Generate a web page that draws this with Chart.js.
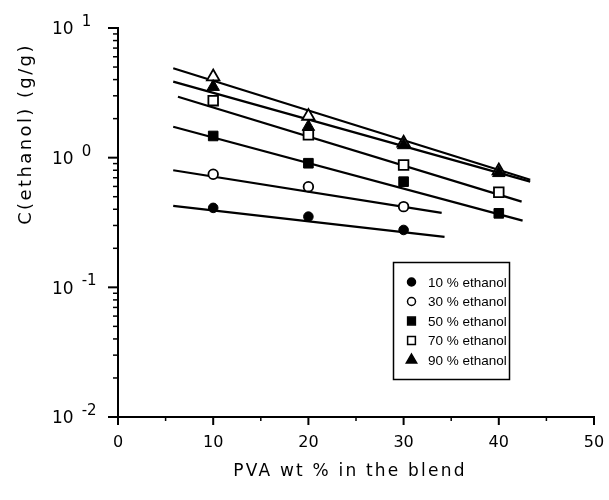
<!DOCTYPE html>
<html><head><meta charset="utf-8">
<script src="https://cdn.jsdelivr.net/npm/chart.js@4.4.0/dist/chart.umd.min.js"></script>
<style>html,body{margin:0;padding:0;background:#fff;}#wrap{width:609px;height:500px;}</style>
</head><body><div id="wrap"><canvas id="c" width="609" height="500"></canvas></div>
<script>
// ---- data ----
const pvaWt = [10, 20, 30, 40];
const eth10 = [0.41, 0.351, 0.277];
const eth30 = [0.745, 0.597, 0.419];
const eth50 = [1.47, 0.906, 0.653, 0.372];
const eth70 = [2.75, 1.50, 0.878, 0.541];
const eth90 = [3.52, 1.73, 1.25, 0.762];
const ethOpen = [4.21, 2.09, 1.30, 0.794];   // open triangles (not in legend)

// fitted lines: [xStart, xEnd] and [yStart, yEnd]
const fit10X = [5.8, 34.3],  fit10Y = [0.425, 0.245];
const fit30X = [5.8, 34.0],  fit30Y = [0.80, 0.375];
const fit50X = [5.8, 42.5],  fit50Y = [1.73, 0.327];
const fit70X = [6.3, 42.4],  fit70Y = [2.95, 0.458];
const fit90X = [5.8, 43.3],  fit90Y = [3.86, 0.653];
const fitOpenX = [5.8, 43.3], fitOpenY = [4.89, 0.676];

const seriesLabels = ['10 % ethanol', '30 % ethanol', '50 % ethanol', '70 % ethanol', '90 % ethanol'];
const xTicks = [0, 10, 20, 30, 40, 50];
const xMinorTicks = [5, 15, 25, 35, 45];
const yTickValues = [0.01, 0.1, 1, 10];
const yTickExponents = ['-2', '-1', '0', '1'];
const xTitle = 'PVA wt % in the blend';
const yTitle = 'C(ethanol) (g/g)';

// ---- helpers ----
const pts = (xs, ys) => ys.map((y, i) => ({x: xs[i], y}));
const FILL = '#000', OPEN = '#fff';
function markerSet(label, ys, style, filled, radius) {
  return {label, data: pts(pvaWt, ys), showLine: false, pointStyle: style,
    pointRadius: radius, pointHoverRadius: radius,
    pointBackgroundColor: filled ? FILL : OPEN, pointBorderColor: '#000',
    pointBorderWidth: filled ? 1 : 1.8, order: 0, inLegend: true};
}
function lineSet(xs, ys) {
  return {label: '', data: pts(xs, ys), showLine: true, pointRadius: 0,
    borderColor: '#000', borderWidth: 2.2, order: 1, inLegend: false};
}

const datasets = [
  markerSet(seriesLabels[0], eth10, 'circle', true, 4.8),
  markerSet(seriesLabels[1], eth30, 'circle', false, 4.8),
  markerSet(seriesLabels[2], eth50, 'rect', true, 6.8),
  markerSet(seriesLabels[3], eth70, 'rect', false, 6.8),
  markerSet(seriesLabels[4], eth90, 'triangle', true, 7.2),
  Object.assign(markerSet('', ethOpen, 'triangle', false, 7.2), {inLegend: false}),
  lineSet(fit10X, fit10Y), lineSet(fit30X, fit30Y), lineSet(fit50X, fit50Y),
  lineSet(fit70X, fit70Y), lineSet(fit90X, fit90Y), lineSet(fitOpenX, fitOpenY)
];

const decor = {
  id: 'decor',
  afterDraw(chart) {
    const ctx = chart.ctx, xs = chart.scales.x, ys = chart.scales.y;
    const L = chart.chartArea.left, B = chart.chartArea.bottom;
    ctx.save();
    ctx.strokeStyle = '#000'; ctx.fillStyle = '#000'; ctx.lineCap = 'butt';
    // x ticks
    ctx.lineWidth = 2;
    xTicks.forEach(v => { const p = xs.getPixelForValue(v); ctx.beginPath(); ctx.moveTo(p, B); ctx.lineTo(p, B + 8); ctx.stroke(); });
    ctx.lineWidth = 1.5;
    xMinorTicks.forEach(v => { const p = xs.getPixelForValue(v); ctx.beginPath(); ctx.moveTo(p, B); ctx.lineTo(p, B + 4); ctx.stroke(); });
    // y ticks
    ctx.lineWidth = 2;
    yTickValues.forEach(v => { const p = ys.getPixelForValue(v); ctx.beginPath(); ctx.moveTo(L - 10, p); ctx.lineTo(L, p); ctx.stroke(); });
    ctx.lineWidth = 1.5;
    for (let i = 0; i < yTickValues.length - 1; i++) {
      for (let m = 2; m <= 9; m++) {
        const p = ys.getPixelForValue(yTickValues[i] * m);
        ctx.beginPath(); ctx.moveTo(L - 5, p); ctx.lineTo(L, p); ctx.stroke();
      }
    }
    // y tick labels (10 with exponent)
    ctx.textBaseline = 'middle'; ctx.textAlign = 'left';
    yTickValues.forEach((v, i) => {
      const p = ys.getPixelForValue(v);
      ctx.font = '17px "DejaVu Sans"';
      ctx.fillText('10', 52, p + 2);
      const w = ctx.measureText('10').width;
      ctx.font = '15px "DejaVu Sans"';
      ctx.fillText(yTickExponents[i], 52 + w + 8, p - 6);
    });
    // axis titles
    ctx.font = '17px "DejaVu Sans"';
    ctx.letterSpacing = '2.2px';
    ctx.textAlign = 'center';
    ctx.fillText(xTitle, 350, 472);
    ctx.save();
    ctx.translate(26, 134); ctx.rotate(-Math.PI / 2);
    ctx.font = '18px "DejaVu Sans"';
    ctx.letterSpacing = '2.4px';
    ctx.fillText(yTitle, 0, 0);
    ctx.restore();
    ctx.letterSpacing = '0px';
    // legend box
    const bx = 393, by = 262, bw = 116, bh = 117;
    ctx.lineWidth = 1.5;
    ctx.strokeRect(bx + 0.5, by + 0.5, bw, bh);
    ctx.font = '13.5px "Liberation Sans"';
    ctx.textAlign = 'left';
    const legendItems = chart.data.datasets.filter(d => d.inLegend);
    legendItems.forEach((d, i) => {
      const y = by + 20 + i * 19.5;
      const filled = d.pointBackgroundColor === FILL;
      ctx.fillStyle = filled ? '#000' : '#fff';
      ctx.strokeStyle = '#000';
      const r = d.pointStyle === 'circle' ? 4 : (d.pointStyle === 'rect' ? 5.5 : 6);
      Chart.helpers.drawPoint(ctx, {pointStyle: d.pointStyle, radius: r, borderWidth: filled ? 1 : 2, rotation: 0}, 411.5, y);
      ctx.fillStyle = '#000';
      ctx.fillText(d.label, 428, y + 1);
    });
    ctx.restore();
  }
};

new Chart(document.getElementById('c'), {
  type: 'scatter',
  data: {datasets},
  options: {
    responsive: false, animation: false, devicePixelRatio: 1,
    layout: {padding: {left: 0, right: 15, top: 28, bottom: 0}},
    plugins: {legend: {display: false}, tooltip: {enabled: false}},
    scales: {
      x: {type: 'linear', min: 0, max: 50,
        ticks: {stepSize: 10, color: '#000', padding: 0, font: {family: 'DejaVu Sans', size: 16}},
        grid: {display: true, drawOnChartArea: false, drawTicks: true, tickLength: 16, color: 'rgba(0,0,0,0)'},
        border: {display: true, color: '#000', width: 2},
        afterFit: s => { s.height = 83; }},
      y: {type: 'logarithmic', min: 0.01, max: 10,
        ticks: {display: false},
        grid: {display: false, drawTicks: false},
        border: {display: true, color: '#000', width: 2},
        afterFit: s => { s.width = 118; }}
    }
  },
  plugins: [decor]
});
</script></body></html>
